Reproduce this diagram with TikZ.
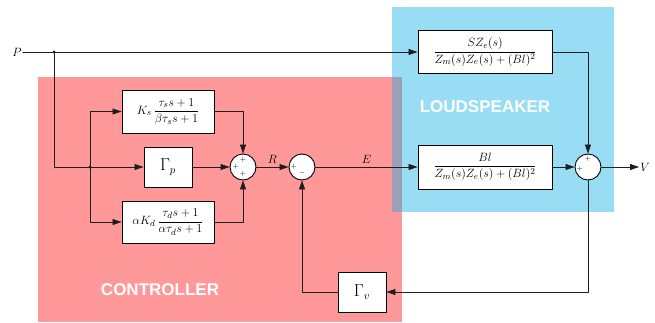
\documentclass[tikz,border=0pt]{standalone}
\usepackage{amsmath}
\usepackage{fontspec}
\newfontfamily\areafont{Liberation Sans}
\usetikzlibrary{arrows.meta}
\definecolor{ctrlred}{RGB}{255,0,0}
\definecolor{spkblue}{RGB}{0,170,230}
\definecolor{wire}{RGB}{30,30,30}
\tikzset{
  blockbox/.style={rectangle,draw,line width=0.9pt,fill=white,inner sep=1pt,font=\fontsize{13}{15}\selectfont},
  gainbox/.style={blockbox,minimum width=48pt,minimum height=40pt,font=\fontsize{16}{18}\selectfont},
  sumnode/.style={circle,draw,line width=0.9pt,fill=white,minimum size=26pt,inner sep=0pt},
  signmark/.style={inner sep=0pt,font=\fontsize{7}{7}\selectfont},
  sigtext/.style={inner sep=1pt,font=\fontsize{13}{13}\selectfont},
  flow/.style={draw=wire,line width=0.7pt,-{Triangle[length=9pt,width=6pt]}},
  areatext/.style={text=white,font=\areafont\bfseries\fontsize{17}{17}\selectfont},
  every picture/.style={line cap=round,line join=round}
}

\begin{document}
\begin{tikzpicture}[x=1pt,y=-1pt]
  \useasboundingbox (0,0) rectangle (655,322);
  \fill[ctrlred,opacity=0.4] (38,77) rectangle (402,322);
  \fill[spkblue,opacity=0.4] (392,7) rectangle (614,212);
  \node[areatext] (spk) at (485,107) {LOUDSPEAKER};
  \node[areatext] (ctrl) at (160,290) {CONTROLLER};

  \node[sigtext] (P) at (17,52) {$P$};
  \node[blockbox,minimum width=134pt,minimum height=43pt] (SZe) at (485,52)
    {$\dfrac{SZ_e(s)}{Z_m(s)Z_e(s)+(Bl)^2}$};
  \node[blockbox,minimum width=92pt,minimum height=43pt] (Ks) at (168,111.5)
    {$K_s\,\dfrac{\tau_s s+1}{\beta\tau_s s+1}$};
  \node[gainbox] (Gp) at (168,167) {$\Gamma_p$};
  \node[blockbox,minimum width=92pt,minimum height=42pt] (Kd) at (168,222)
    {$\alpha K_d\,\dfrac{\tau_d s+1}{\alpha\tau_d s+1}$};
  \node[sumnode] (sum1) at (243,167) {};
  \node[sumnode] (sum2) at (302,167) {};
  \node[blockbox,minimum width=134pt,minimum height=44pt] (Bl) at (485,167)
    {$\dfrac{Bl}{Z_m(s)Z_e(s)+(Bl)^2}$};
  \node[sumnode] (sum3) at (588,167) {};
  \node[sigtext] (V) at (645,167) {$V$};
  \node[gainbox] (Gv) at (362,292) {$\Gamma_v$};

  \node[signmark] (s1t) at ([yshift=7pt]sum1.center) {$+$};
  \node[signmark] (s1l) at ([xshift=-7pt]sum1.center) {$+$};
  \node[signmark] (s1b) at ([yshift=-7pt]sum1.center) {$+$};
  \node[signmark] (s2l) at ([xshift=-8pt]sum2.center) {$+$};
  \node[signmark] (s2b) at ([yshift=-6pt]sum2.center) {$-$};
  \node[signmark] (s3t) at ([yshift=8pt]sum3.center) {$+$};
  \node[signmark] (s3l) at ([xshift=-8pt,yshift=-2pt]sum3.center) {$+$};

  \coordinate (tap1) at (54,52);
  \coordinate (tap2) at (90,167);
  \fill[wire] (tap1) circle (1.6pt);
  \fill[wire] (tap2) circle (1.6pt);

  \draw[flow] (P.east) -- (SZe.west);
  \draw[flow] (tap1) |- (Gp.west);
  \draw[flow] (tap2) |- (Ks.west);
  \draw[flow] (tap2) |- (Kd.west);
  \draw[flow] (Ks.east) -| (sum1.north);
  \draw[flow] (Gp.east) -- (sum1.west);
  \draw[flow] (Kd.east) -| (sum1.south);
  \draw[flow] (sum1.east) -- node[sigtext,above=2pt] (R) {$R$} (sum2.west);
  \draw[flow] (sum2.east) -- node[sigtext,above=2pt] (E) {$E$} (Bl.west);
  \draw[flow] (SZe.east) -| (sum3.north);
  \draw[flow] (Bl.east) -- (sum3.west);
  \draw[flow] (sum3.east) -- (V.west);
  \draw[flow] (sum3.south) |- (Gv.east);
  \draw[flow] (Gv.west) -| (sum2.south);
\end{tikzpicture}
\end{document}
